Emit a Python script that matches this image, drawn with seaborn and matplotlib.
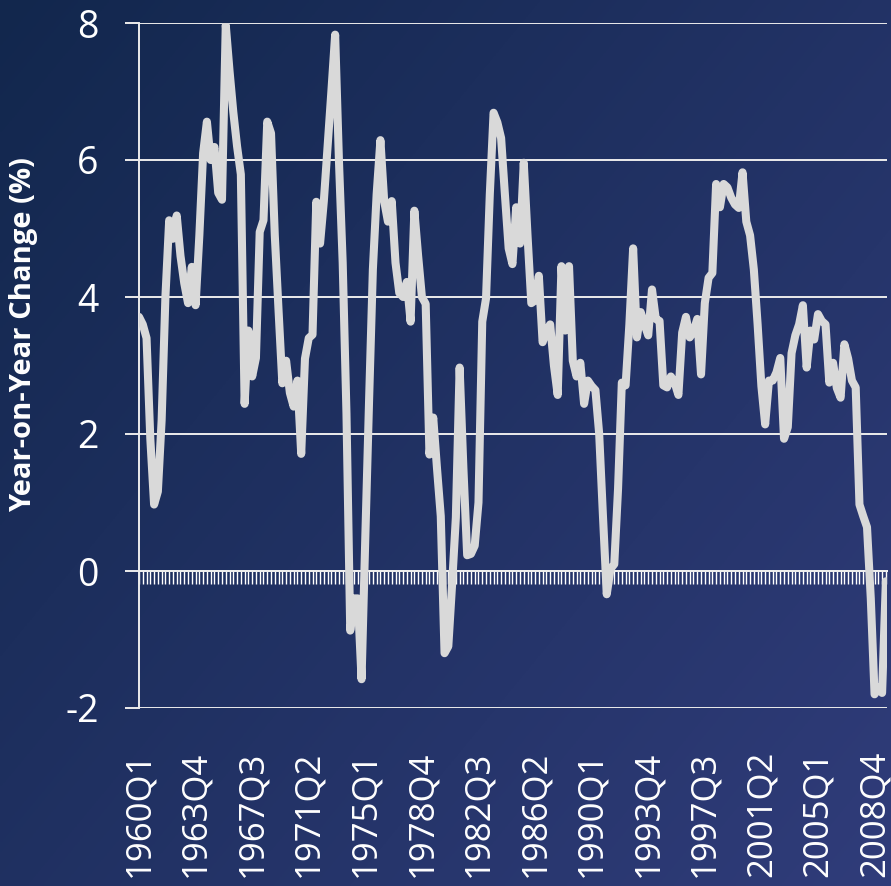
import numpy as np
import pandas as pd
import matplotlib
matplotlib.use("Agg")
import matplotlib.pyplot as plt
import seaborn as sns

# Year-on-year change (%), quarterly from 1960Q1
yoy_1960s = [3.71, 3.6, 3.4, 1.93, 0.97, 1.16, 2.2, 4.0, 5.12, 4.85,
             5.19, 4.6, 4.2, 3.91, 4.44, 3.88, 4.9, 6.1, 6.56, 6.0,
             6.19, 5.52, 5.42, 7.97, 7.3, 6.7, 6.2, 5.79, 2.44, 3.51,
             2.84, 3.11, 4.95, 5.12, 6.56, 6.39, 4.9, 3.8, 2.74, 3.07]
yoy_1970s = [2.6, 2.4, 2.78, 1.71, 3.1, 3.4, 3.45, 5.39, 4.78, 5.4,
             6.2, 7.0, 7.83, 6.0, 4.5, 2.3, -0.87, -0.4, -0.4, -1.58,
             0.5, 2.5, 4.4, 5.5, 6.29, 5.4, 5.1, 5.4, 4.5, 4.06,
             4.0, 4.22, 3.64, 5.26, 4.6, 4.0, 3.9, 1.7, 2.24, 1.5]
yoy_1980s = [0.8, -1.2, -1.1, -0.2, 0.78, 2.97, 1.5, 0.23, 0.25, 0.37,
             1.0, 3.64, 3.98, 5.5, 6.69, 6.55, 6.32, 5.5, 4.71, 4.48,
             5.31, 4.78, 5.96, 4.9, 3.91, 3.95, 4.31, 3.34, 3.5, 3.6,
             3.0, 2.57, 4.45, 3.51, 4.45, 3.07, 2.84, 3.04, 2.44, 2.78]
yoy_1990s = [2.7, 2.64, 2.0, 0.8, -0.34, 0.03, 0.1, 1.2, 2.75, 2.71,
             3.6, 4.71, 3.41, 3.78, 3.6, 3.44, 4.11, 3.68, 3.65, 2.71,
             2.68, 2.84, 2.75, 2.57, 3.48, 3.71, 3.41, 3.5, 3.68, 2.87,
             3.91, 4.28, 4.35, 5.65, 5.31, 5.65, 5.6, 5.45, 5.35, 5.3]
yoy_2000s = [5.82, 5.1, 4.9, 4.4, 3.6, 2.7, 2.14, 2.78, 2.78, 2.9,
             3.11, 1.93, 2.1, 3.18, 3.44, 3.6, 3.88, 2.97, 3.51, 3.38,
             3.75, 3.65, 3.6, 2.75, 3.04, 2.67, 2.53, 3.31, 3.1, 2.78,
             2.68, 0.97, 0.8, 0.64, -0.4, -1.8, -1.7, -1.78, -0.15]

tick_labels = ["1960Q1", "1963Q4", "1967Q3", "1971Q2", "1975Q1", "1978Q4",
               "1982Q3", "1986Q2", "1990Q1", "1993Q4", "1997Q3", "2001Q2",
               "2005Q1", "2008Q4"]
y_ticks = [-2, 0, 2, 4, 6, 8]
y_title = "Year-on-Year Change (%)"

values = yoy_1960s + yoy_1970s + yoy_1980s + yoy_1990s + yoy_2000s
quarters = [f"{1960 + i // 4}Q{i % 4 + 1}" for i in range(len(values))]
df = pd.DataFrame({"pos": np.arange(len(values)), "quarter": quarters, "yoy": values})
label_pos = [quarters.index(q) for q in tick_labels]

sns.set_theme(style="white")
plt.rcParams["font.family"] = ["Open Sans", "DejaVu Sans"]

W, H = 891, 886
fig = plt.figure(figsize=(W / 100, H / 100), dpi=100)

# navy gradient backdrop
bg = fig.add_axes([0, 0, 1, 1], zorder=-10)
yy, xx = np.mgrid[0:1:300j, 0:1:300j]
t = np.clip(0.55 * xx + 0.45 * yy, 0, 1)
c0 = np.array([0x12, 0x27, 0x4d]) / 255
c1 = np.array([0x30, 0x3c, 0x7a]) / 255
bg.imshow(c0 + (c1 - c0) * t[..., None], aspect="auto", extent=[0, 1, 0, 1], origin="upper")
bg.set_axis_off()

ax = fig.add_axes([139 / W, 1 - 708 / H, 748 / W, 685 / H])
ax.set_facecolor("none")

grid_c = "#ececec"
sns.lineplot(data=df, x="pos", y="yoy", ax=ax, color="#d9d9d9", linewidth=5.8,
             solid_capstyle="round", solid_joinstyle="round", zorder=5)

ax.set_xlim(0, len(values) - 0.7)
ax.set_ylim(-2, 8)
ax.set_yticks(y_ticks)
ax.set_yticklabels([str(v) for v in y_ticks])
ax.grid(axis="y", color=grid_c, linewidth=1.4)
ax.grid(axis="x", visible=False)
ax.tick_params(axis="y", length=10, width=1.4, color=grid_c, direction="out",
               pad=19, labelsize=27, labelcolor="white", left=True)

ax.set_xticks(label_pos)
ax.set_xticklabels(tick_labels, rotation=90)
ax.tick_params(axis="x", length=0, pad=31, labelsize=25, labelcolor="white")
ax.set_xlabel("")

for side in ["top", "right", "bottom"]:
    ax.spines[side].set_visible(False)
ax.spines["left"].set_color(grid_c)
ax.spines["left"].set_linewidth(1.4)

# category axis crossing at zero with a tick for every quarter
zero_axis = ax.secondary_xaxis(0.2)
zero_axis.set_xticks(df["pos"].tolist())
zero_axis.tick_params(axis="x", direction="out", length=9.4, width=1.0,
                      color="white", labelbottom=False, labeltop=False)
zero_axis.spines["bottom"].set_color("white")
zero_axis.spines["bottom"].set_linewidth(1.4)

ax.set_ylabel(y_title, fontsize=21, fontweight="bold", color="white")
ax.yaxis.set_label_coords(-0.135, 0.545)

fig.savefig("out.png", dpi=100)
